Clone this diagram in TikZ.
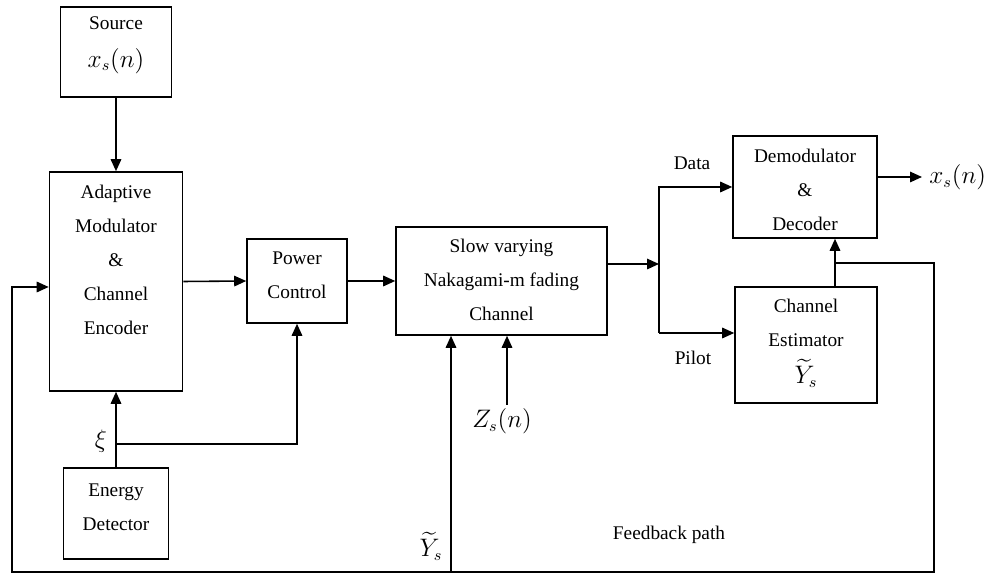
\documentclass[tikz,border=0pt]{standalone}
\usepackage{fontspec}
\setmainfont{Liberation Serif}
\usepackage{amsmath}
\usetikzlibrary{arrows.meta,calc}
\begin{document}
\begin{tikzpicture}[x=0.02cm,y=-0.02cm,
  blk/.style={draw,line width=0.9pt,inner sep=0pt},
  txt/.style={align=center,inner sep=0pt,font=\fontsize{11}{19.4}\selectfont},
  mth/.style={inner sep=0pt,font=\fontsize{13.5}{16}\selectfont},
  ln/.style={line width=0.9pt},
  ar/.style={line width=0.9pt,-{Triangle[length=0.24cm,width=0.21cm]}}]
\useasboundingbox (0,0) rectangle (1000,573);
% boxes
\node[blk,minimum width=111*0.02cm,minimum height=90*0.02cm] (src) at (116,52) {};
\node[txt] (srct) at (116,45) {Source\\[2pt]\fontsize{13.5}{16}\selectfont$x_s(n)$};
\node[blk,minimum width=133*0.02cm,minimum height=219*0.02cm] (am) at (116,281.5) {};
\node[txt] (amt) at (116,260) {Adaptive\\Modulator\\\&\\Channel\\Encoder};
\node[blk,minimum width=100*0.02cm,minimum height=84*0.02cm] (pc) at (297,281) {};
\node[txt] (pct) at (297,275) {Power\\Control};
\node[blk,minimum width=211*0.02cm,minimum height=108*0.02cm] (ch) at (501.5,281) {};
\node[txt] (cht) at (501.5,280) {Slow varying\\Nakagami-m fading\\Channel};
\node[blk,minimum width=144*0.02cm,minimum height=102*0.02cm] (dem) at (805,187) {};
\node[txt] (demt) at (805,190) {Demodulator\\\&\\Decoder};
\node[blk,minimum width=142*0.02cm,minimum height=116*0.02cm] (est) at (806,345) {};
\node[txt] (estt) at (806,323) {Channel\\Estimator};
\node[mth] (esty) at (806,373) {$\widetilde{Y}_s$};
\node[blk,minimum width=105*0.02cm,minimum height=91*0.02cm] (ed) at (116,513.5) {};
\node[txt] (edt) at (116,507) {Energy\\Detector};
% labels
\node[txt] (data) at (692,163) {Data};
\node[txt] (pilot) at (693,358) {Pilot};
\node[txt] (fb) at (669,535) {Feedback path};
\node[mth] (xi) at (101,441) {$\xi$};
\node[mth] (zl) at (502,421) {$Z_s(n)$};
\node[mth] (yl) at (431,546) {$\widetilde{Y}_s$};
% coordinates
\coordinate (br) at (659,264);
\coordinate (pil) at (659,333);
\coordinate (outp) at (922,177);
\coordinate (fbj) at (835,263);
\coordinate (fbr) at (934,572);
\coordinate (fbl) at (12,572);
\coordinate (xij) at (116,444);
\coordinate (zb) at (507,405);
\coordinate (yb) at (451,572);
\node[mth,anchor=west] (xo) at (929,177) {$x_s(n)$};
% connectors
\draw[ar] (src.south) -- (am.north);
\draw[ar] (am.east) -- (pc.west);
\draw[ar] (pc.east) -- (ch.west);
\draw[ar] (ed.north) -- (am.south);
\draw[ar] (xij) -| (pc.south);
\draw[ar] (ch.east |- br) -- (br);
\draw[ar] (br) |- (dem.west);
\draw[ln] (br) -- (pil);
\draw[ar] (pil) -- (pil -| est.west);
\draw[ar] (dem.east |- outp) -- (outp);
\draw[ar] (est.north -| fbj) -- (dem.south -| fbj);
\draw[ar] (fbj) -| (fbr) -- (fbl) |- ($(am.west)+(0,5.5)$);
\draw[ar] (yb) -- (yb |- ch.south);
\draw[ar] (zb) -- (zb |- ch.south);
\end{tikzpicture}
\end{document}
